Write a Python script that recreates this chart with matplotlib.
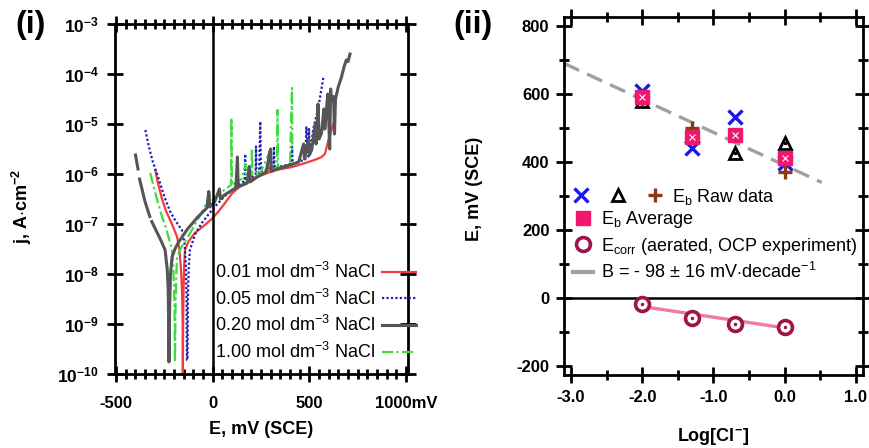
import numpy as np
import matplotlib
matplotlib.use("Agg")
import matplotlib.pyplot as plt
from matplotlib.lines import Line2D
from matplotlib.legend_handler import HandlerTuple

plt.rcParams["font.family"] = ["Liberation Sans", "DejaVu Sans"]
plt.rcParams["mathtext.fontset"] = "custom"
plt.rcParams["mathtext.rm"] = "Liberation Sans"
plt.rcParams["mathtext.it"] = "Liberation Sans:italic"
plt.rcParams["mathtext.bf"] = "Liberation Sans:bold"

# Panel (i): polarisation curves, (E in mV, log10 j)
#--------------------------------------------------------------------------------------
red_pts = [(-297, -5.92), (-285, -6.15), (-262, -6.50), (-240, -6.75), (-220, -6.92),
           (-200, -7.10), (-184, -7.26), (-172, -7.50), (-164, -7.90), (-158, -8.40),
           (-155, -9.00), (-154, -10.0), (-153, -9.20), (-151, -8.40), (-147, -7.80),
           (-143, -7.52), (-125, -7.35), (-92, -7.18), (-50, -7.05), (-5, -6.90),
           (30, -6.75), (60, -6.60), (102, -6.38), (150, -6.22), (200, -6.10),
           (256, -6.02), (285, -5.98), (292, -5.55), (296, -5.97), (330, -5.92),
           (370, -5.89), (410, -5.86), (480, -5.78), (540, -5.70), (563, -5.66),
           (580, -5.60), (599, -5.32), (612, -5.15), (625, -4.98)]

blue_pts = [(-348, -5.12), (-330, -5.45), (-310, -5.75), (-282, -6.06), (-250, -6.45),
            (-220, -6.75), (-190, -6.95), (-159, -7.12), (-145, -7.40), (-138, -7.90),
            (-135, -8.50), (-133, -9.72), (-130, -9.72), (-128, -8.50), (-124, -7.90),
            (-118, -7.52), (-90, -7.20), (-56, -6.98), (-20, -6.80), (10, -6.66),
            (60, -6.45), (120, -6.25), (165, -6.14), (168, -5.60), (171, -6.12),
            (222, -6.02), (224, -5.45), (226, -6.00), (240, -5.98), (246, -4.95),
            (250, -5.95), (265, -5.93), (300, -5.90), (315, -5.88), (317, -5.45),
            (320, -5.88), (360, -5.84), (405, -5.80), (410, -5.42), (414, -5.80),
            (440, -5.76), (470, -5.72), (480, -5.70), (484, -5.05), (495, -5.65),
            (498, -5.10), (502, -5.60), (520, -5.10), (545, -4.70), (573, -4.06)]

gray_pts = [(-399, -5.62), (-386, -5.90), (np.nan, np.nan), (-378, -6.10), (-350, -6.55),
            (-325, -6.85), (np.nan, np.nan), (-315, -6.95), (-290, -7.15), (-265, -7.35),
            (-246, -7.52), (-235, -7.90), (-230, -8.30), (-228, -8.90), (-226, -9.76),
            (-222, -8.60), (-218, -8.00), (-210, -7.66), (-195, -7.50), (-179, -7.38),
            (-130, -7.10), (-77, -6.86), (-30, -6.68), (-20, -6.35), (-15, -6.66),
            (10, -6.56), (35, -6.30), (40, -6.50), (60, -6.42), (120, -6.28),
            (128, -5.66), (132, -6.26), (179, -6.18), (189, -5.85), (193, -6.16),
            (230, -6.06), (276, -5.96), (300, -5.50), (304, -5.94), (350, -5.88),
            (400, -5.82), (445, -5.76), (470, -5.40), (475, -5.70), (495, -5.30),
            (500, -5.62), (512, -5.52), (530, -5.00), (535, -5.40), (545, -4.60),
            (550, -5.30), (563, -5.18), (575, -4.70), (580, -5.10), (595, -4.40),
            (600, -4.90), (605, -5.50), (610, -4.30), (614, -4.52), (625, -4.45),
            (630, -5.20), (635, -4.50), (650, -4.25), (666, -4.06), (680, -3.85),
            (691, -3.72), (700, -3.75), (710, -3.60)]

green_pts = [(-323, -5.98), (-305, -6.25), (-285, -6.55), (-262, -6.85), (-240, -7.10),
             (-222, -7.35), (-210, -7.52), (-203, -7.90), (-198, -8.50), (-195, -9.76),
             (-192, -8.60), (-188, -8.00), (-184, -7.66), (-160, -7.45), (-128, -7.26),
             (-90, -7.00), (-41, -6.66), (-16, -6.42), (-12, -6.60), (0, -6.52),
             (50, -6.35), (95, -6.22), (97, -4.88), (99, -6.22), (150, -6.10),
             (170, -5.80), (173, -6.08), (200, -6.02), (203, -5.50), (206, -6.00),
             (250, -5.95), (290, -5.60), (293, -5.92), (333, -5.88), (335, -4.72),
             (338, -5.88), (370, -5.85), (400, -5.83), (410, -4.28), (412, -5.60)]

curve_labels = [r"0.01 mol dm$^{-3}$ NaCl", r"0.05 mol dm$^{-3}$ NaCl",
                r"0.20 mol dm$^{-3}$ NaCl", r"1.00 mol dm$^{-3}$ NaCl"]

# Panel (ii): breakdown / corrosion potentials vs log[Cl-]
#--------------------------------------------------------------------------------------
log_cl      = [-2.0, -1.3, -0.7, 0.0]
eb_cross    = [610, 441, 532, 398]
eb_triangle = [580, 478, 426, 456]
eb_plus     = [585, 500, 478, 371]
eb_average  = [592, 474, 479, 412]
e_corr      = [-18, -60, -75, -86]
ecorr_fit_x = [-2.0, 0.0]
ecorr_fit_y = [-25, -88]
b_fit_x     = [-3.1, 0.52]
b_fit_y     = [690, 340]

font_b = {"family": "Liberation Sans", "weight": "bold", "size": 12}
font_lab = {"family": "Liberation Sans", "weight": "bold", "size": 13}

fig = plt.figure(figsize=(8.7, 4.48), dpi=100)
ax1 = fig.add_axes([115/870, 74/448, 293/870, 350/448])
ax2 = fig.add_axes([564/870, 73.5/448, 299/870, 357/448])

def style_axes(ax):
     for s in ax.spines.values():
          s.set_linewidth(2.0)
     ax.tick_params(which="both", direction="inout", width=2.0, top=True, right=True)
     ax.tick_params(which="major", length=11)
     ax.tick_params(which="minor", length=7)

# (i)
#--------------------------------------------------------------------------------------
def unzip(pts):
     e = np.array([p[0] for p in pts], dtype=float)
     j = 10.0 ** np.array([p[1] for p in pts], dtype=float)
     return e, j

e, j = unzip(red_pts)
h_red, = ax1.plot(e, j, c="#f03c3c", lw=1.6)
e, j = unzip(blue_pts)
h_blue, = ax1.plot(e, j, c="#1e1eb4", lw=1.6, ls=(0, (1, 1)))
e, j = unzip(green_pts)
h_green, = ax1.plot(e, j, c="#3cdc3c", lw=1.6, ls=(0, (5, 1.5, 1, 1.5)))
e, j = unzip(gray_pts)
h_gray, = ax1.plot(e, j, c="#555555", lw=2.2)

ax1.axvline(0, color="k", lw=1.8)
ax1.set_yscale("log")
ax1.set_xlim(-505, 1010)
ax1.set_ylim(1e-10, 1e-3)
style_axes(ax1)
ax1.set_xticks([-500, 0, 500, 1000])
ax1.set_xticklabels(["-500", "0", "500", "1000mV"], fontdict=font_b)
ax1.set_xticks(np.arange(-500, 1001, 50), minor=True)
yt = [10.0 ** k for k in range(-10, -2)]
ax1.set_yticks(yt)
ax1.set_yticklabels([r"$\mathbf{10^{%d}}$" % k for k in range(-10, -2)], fontsize=12.5)
ax1.yaxis.set_minor_locator(matplotlib.ticker.NullLocator())
ax1.tick_params(axis="x", which="both", pad=10)
ax1.tick_params(axis="y", pad=6)
ax1.set_xlabel("E, mV (SCE)", fontdict=font_lab)
ax1.xaxis.set_label_coords(0.5, -0.135)
ax1.set_ylabel(r"j, A$\cdot$cm$^{\mathbf{-2}}$", fontdict=font_lab)
ax1.yaxis.set_label_coords(-0.275, 0.48)

ax1.legend([h_red, h_blue, h_gray, h_green], curve_labels, loc="upper left",
           bbox_to_anchor=(0.34, 0.32), frameon=False, markerfirst=False, fontsize=13,
           handlelength=1.9, handletextpad=0.4, labelspacing=0.36, borderpad=0,
           borderaxespad=0)

# (ii)
#--------------------------------------------------------------------------------------
ax2.plot(b_fit_x, b_fit_y, c="#a0a0a0", lw=2.4, dashes=(5, 2.6), zorder=1)
ax2.axhline(0, color="k", lw=1.8)
h_x, = ax2.plot(log_cl, eb_cross, ls="none", marker="x", ms=10, mew=2.4, c="#1a1ae6", zorder=3)
h_t, = ax2.plot(log_cl, eb_triangle, ls="none", marker="^", ms=9, mew=2.0, mfc="white",
                mec="black", zorder=3)
ax2.plot(log_cl, eb_triangle, ls="none", marker=".", ms=3, c="black", zorder=3)
h_p, = ax2.plot(log_cl, eb_plus, ls="none", marker="+", ms=10, mew=2.4, c="#8b3a10", zorder=3)
h_s, = ax2.plot(log_cl, eb_average, ls="none", marker="s", ms=10, mec="#f0186e",
                mfc="#f0186e", zorder=4)
ax2.plot(log_cl, eb_average, ls="none", marker="x", ms=5, mew=0.8, c="white", zorder=5)
ax2.plot(ecorr_fit_x, ecorr_fit_y, c="#f07aa8", lw=2.4, zorder=3)
h_c, = ax2.plot(log_cl, e_corr, ls="none", marker="o", ms=10, mew=2.6, mfc="white",
                mec="#9c1448", zorder=4)
ax2.plot(log_cl, e_corr, ls="none", marker=".", ms=3, c="#9c1448", zorder=5)

ax2.set_xlim(-3.1, 1.1)
ax2.set_ylim(-225, 825)
style_axes(ax2)
ax2.set_xticks([-3, -2, -1, 0, 1])
ax2.set_xticklabels(["-3.0", "-2.0", "-1.0", "0.0", "1.0"], fontdict=font_b)
ax2.set_xticks(np.arange(-3, 1.01, 0.5), minor=True)
ax2.set_yticks([-200, 0, 200, 400, 600, 800])
ax2.set_yticklabels(["-200", "0", "200", "400", "600", "800"], fontdict=font_b)
ax2.set_yticks(np.arange(-200, 801, 100), minor=True)
ax2.tick_params(axis="x", which="both", pad=6)
ax2.tick_params(axis="y", pad=5)
ax2.set_xlabel(r"Log[Cl$^{\mathbf{-}}$]", fontdict=font_lab)
ax2.xaxis.set_label_coords(0.5, -0.145)
ax2.set_ylabel("E, mV (SCE)", fontdict=font_lab)
ax2.yaxis.set_label_coords(-0.27, 0.52)

leg1 = ax2.legend([(h_x, h_t, h_p)], [r"E$_\mathrm{b}$ Raw data"],
                  handler_map={tuple: HandlerTuple(ndivide=None, pad=1.2)},
                  loc="upper left", bbox_to_anchor=(0.03, 0.526), frameon=False,
                  fontsize=13, handlelength=5.0, handletextpad=0.5, borderpad=0,
                  borderaxespad=0)
ax2.add_artist(leg1)
h_b = Line2D([], [], c="#a0a0a0", lw=3)
ax2.legend([h_s, h_c, h_b],
           [r"E$_\mathrm{b}$ Average", r"E$_\mathrm{corr}$ (aerated, OCP experiment)",
            r"B = - 98 $\pm$ 16 mV$\cdot$decade$^{-1}$"],
           loc="upper left", bbox_to_anchor=(0.03, 0.463), frameon=False, fontsize=13,
           handlelength=1.1, handletextpad=0.45, labelspacing=0.3, borderpad=0,
           borderaxespad=0)

fig.text(15/870, 1 - 10/448, "(i)", fontsize=23, fontweight="bold", va="top", ha="left")
fig.text(453/870, 1 - 10/448, "(ii)", fontsize=23, fontweight="bold", va="top", ha="left")

fig.savefig("out.png", dpi=100)
